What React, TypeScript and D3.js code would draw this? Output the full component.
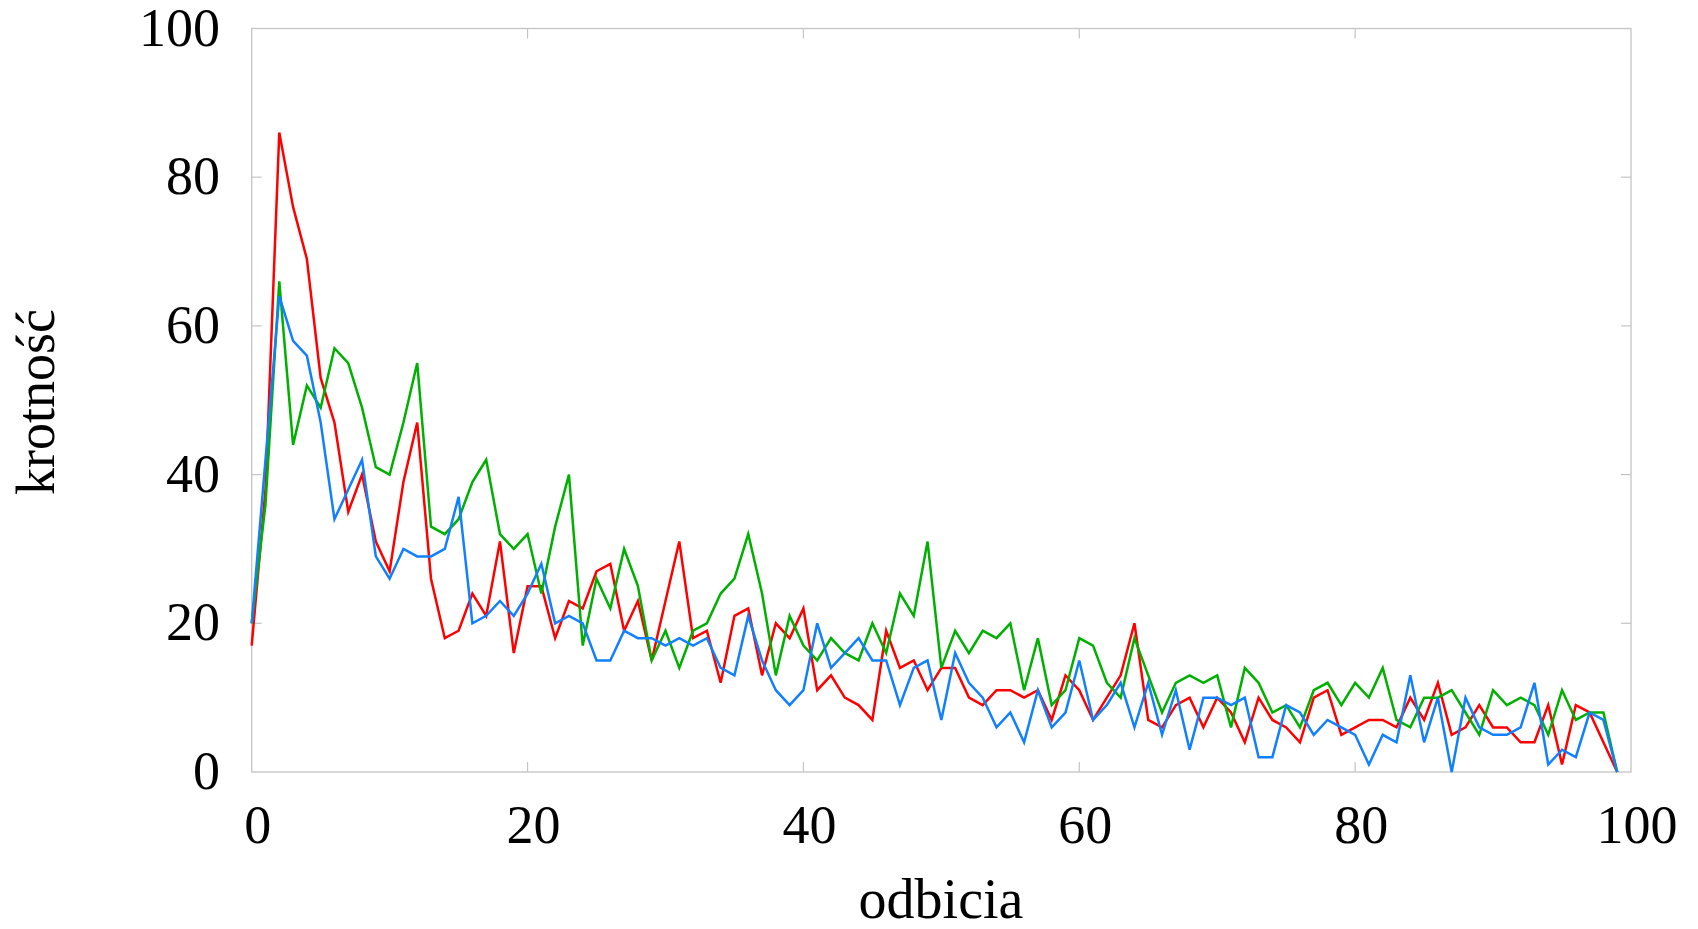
import React from 'react';
import * as d3 from 'd3';

// odbicia 0..99
const redSeries = [
  17, 38, 86, 76, 69, 53, 47, 35, 40, 31,
  27, 39, 47, 26, 18, 19, 24, 21, 31, 16,
  25, 25, 18, 23, 22, 27, 28, 19, 23, 15,
  23, 31, 18, 19, 12, 21, 22, 13, 20, 18,
  22, 11, 13, 10, 9, 7, 19, 14, 15, 11,
  14, 14, 10, 9, 11, 11, 10, 11, 7, 13,
  11, 7, 10, 13, 20, 7, 6, 9, 10, 6,
  10, 8, 4, 10, 7, 6, 4, 10, 11, 5,
  6, 7, 7, 6, 10, 7, 12, 5, 6, 9,
  6, 6, 4, 4, 9, 1, 9, 8, 4, 0,
];

const greenSeries = [
  20, 36, 66, 44, 52, 49, 57, 55, 49, 41,
  40, 47, 55, 33, 32, 34, 39, 42, 32, 30,
  32, 24, 33, 40, 17, 26, 22, 30, 25, 15,
  19, 14, 19, 20, 24, 26, 32, 24, 13, 21,
  17, 15, 18, 16, 15, 20, 16, 24, 21, 31,
  14, 19, 16, 19, 18, 20, 11, 18, 9, 11,
  18, 17, 12, 10, 18, 13, 8, 12, 13, 12,
  13, 6, 14, 12, 8, 9, 6, 11, 12, 9,
  12, 10, 14, 7, 6, 10, 10, 11, 8, 5,
  11, 9, 10, 9, 5, 11, 7, 8, 8, 0,
];

const blueSeries = [
  20, 42, 64, 58, 56, 47, 34, 38, 42, 29,
  26, 30, 29, 29, 30, 37, 20, 21, 23, 21,
  24, 28, 20, 21, 20, 15, 15, 19, 18, 18,
  17, 18, 17, 18, 14, 13, 21, 15, 11, 9,
  11, 20, 14, 16, 18, 15, 15, 9, 14, 15,
  7, 16, 12, 10, 6, 8, 4, 11, 6, 8,
  15, 7, 9, 12, 6, 12, 5, 11, 3, 10,
  10, 9, 10, 2, 2, 9, 8, 5, 7, 6,
  5, 1, 5, 4, 13, 4, 10, 0, 10, 6,
  5, 5, 6, 12, 1, 3, 2, 8, 7, 0,
];

const seriesColors = ['#ff0000', '#00b000', '#1180ff'];
const xTicks = [0, 20, 40, 60, 80, 100];
const yTicks = [0, 20, 40, 60, 80, 100];

const W = 1698;
const H = 929;
const left = 251.7, right = 1631, top = 28.5, bottom = 772;
const FONT = '"Liberation Serif", "Times New Roman", serif';
const FRAME = '#c4c4c4';

export default function App() {
  const x = d3.scaleLinear().domain([0, 100]).range([left, right]);
  const y = d3.scaleLinear().domain([0, 100]).range([bottom, top]);
  const line = d3.line<number>()
    .x((_, i) => x(i))
    .y((d) => y(d));

  const all = [redSeries, greenSeries, blueSeries];
  const tickLen = 10;

  return (
    <svg width={W} height={H} style={{ position: 'absolute', left: 0, top: 0, background: '#fff' }}>
      <rect x={left} y={top} width={right - left} height={bottom - top} fill="none" stroke={FRAME} strokeWidth={1.3} />
      {xTicks.slice(1, -1).map((t) => (
        <g key={'xt' + t}>
          <line x1={x(t)} x2={x(t)} y1={bottom} y2={bottom - tickLen} stroke={FRAME} strokeWidth={1.2} />
          <line x1={x(t)} x2={x(t)} y1={top} y2={top + tickLen} stroke={FRAME} strokeWidth={1.2} />
        </g>
      ))}
      {yTicks.slice(1, -1).map((t) => (
        <g key={'yt' + t}>
          <line x1={left} x2={left + tickLen} y1={y(t)} y2={y(t)} stroke={FRAME} strokeWidth={1.2} />
          <line x1={right} x2={right - tickLen} y1={y(t)} y2={y(t)} stroke={FRAME} strokeWidth={1.2} />
        </g>
      ))}
      {all.map((s, k) => (
        <path key={'s' + k} d={line(s) || ''} fill="none" stroke={seriesColors[k]} strokeWidth={2.5} strokeLinejoin="miter" />
      ))}
      <g fontFamily={FONT} fontSize={54} fill="#000">
        {xTicks.map((t) => (
          <text key={'xl' + t} x={x(t) + 6} y={843} textAnchor="middle">{t}</text>
        ))}
        {yTicks.map((t) => (
          <text key={'yl' + t} x={220} y={y(t) + 17} textAnchor="end">{t}</text>
        ))}
        <text x={941} y={918} fontSize={56} textAnchor="middle">odbicia</text>
        <text transform={`translate(54,402) rotate(-90)`} textAnchor="middle">krotność</text>
      </g>
    </svg>
  );
}
